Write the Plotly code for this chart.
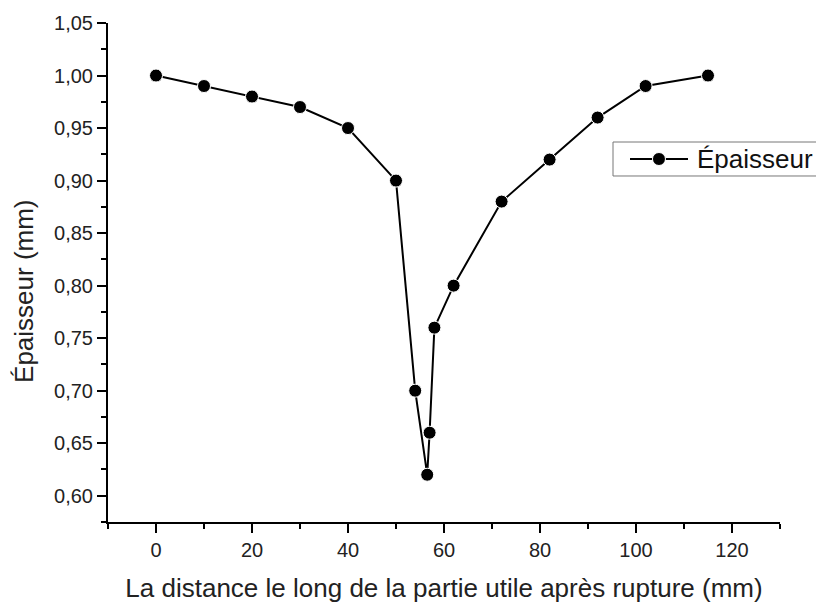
import plotly.graph_objects as go

# Thickness measured along the gauge length after rupture
distance_mm = [0, 10, 20, 30, 40, 50, 54, 56.5, 57, 58, 62, 72, 82, 92, 102, 115]
epaisseur_mm = [1.00, 0.99, 0.98, 0.97, 0.95, 0.90, 0.70, 0.62, 0.66, 0.76,
                0.80, 0.88, 0.92, 0.96, 0.99, 1.00]

x_title = "La distance le long de la partie utile après rupture (mm)"
y_title = "Épaisseur (mm)"
series_name = "Épaisseur"

FONT = "Arial, Liberation Sans, sans-serif"
INK = "#222"

fig = go.Figure()
fig.add_trace(go.Scatter(
    x=distance_mm, y=epaisseur_mm, mode="lines+markers", name=series_name,
    line=dict(color="black", width=2),
    marker=dict(symbol="circle", size=13, color="black",
                line=dict(color="white", width=1)),
    showlegend=False,
))

axis_common = dict(
    showline=True, linecolor="black", linewidth=2,
    showgrid=False, zeroline=False, mirror=False,
    ticks="outside", ticklen=9, tickwidth=2, tickcolor="black",
    tickfont=dict(family=FONT, size=20, color=INK),
)

fig.update_xaxes(
    range=[-10, 130], tick0=0, dtick=20,
    minor=dict(dtick=10, tick0=0, ticks="outside", ticklen=5,
               tickwidth=2, tickcolor="black"),
    title=dict(text=x_title, font=dict(family=FONT, size=26, color=INK),
               standoff=20),
    **axis_common,
)
fig.update_yaxes(
    range=[0.575, 1.05], tick0=0.6, dtick=0.05, tickformat=".2f",
    minor=dict(dtick=0.025, tick0=0.6, ticks="outside", ticklen=5,
               tickwidth=2, tickcolor="black"),
    **axis_common,
)

fig.add_annotation(
    text=y_title, textangle=-90, xref="paper", yref="paper",
    x=-0.125, y=0.461, xanchor="center", yanchor="middle", showarrow=False,
    font=dict(family=FONT, size=26, color=INK),
)

# Legend key: framed box with a line-and-marker sample and the series name
leg_x0, leg_x1, leg_y0, leg_y1 = 0.7515, 1.0565, 0.6934, 0.7615
leg_yc = (leg_y0 + leg_y1) / 2
fig.add_shape(type="rect", xref="paper", yref="paper",
              x0=leg_x0, x1=leg_x1, y0=leg_y0, y1=leg_y1,
              line=dict(color="#777", width=1), fillcolor="white", layer="above")
fig.add_shape(type="line", xref="paper", yref="paper",
              x0=0.7768, x1=0.8631, y0=leg_yc, y1=leg_yc,
              line=dict(color="black", width=2), layer="above")
fig.add_shape(type="circle", xref="paper", yref="paper",
              xsizemode="pixel", ysizemode="pixel",
              xanchor=0.8199, yanchor=leg_yc, x0=-6.5, x1=6.5, y0=-6.5, y1=6.5,
              line=dict(color="white", width=1), fillcolor="black", layer="above")
fig.add_annotation(
    text=series_name, xref="paper", yref="paper", x=0.8735, y=leg_yc,
    xanchor="left", yanchor="middle", showarrow=False,
    font=dict(family=FONT, size=26, color="#111"),
)

fig.update_layout(
    width=816, height=603,
    margin=dict(l=108, r=36, t=23, b=81, autoexpand=False),
    paper_bgcolor="white", plot_bgcolor="white",
    separators=", ",
    showlegend=False,
)

fig.write_html("out.html")
